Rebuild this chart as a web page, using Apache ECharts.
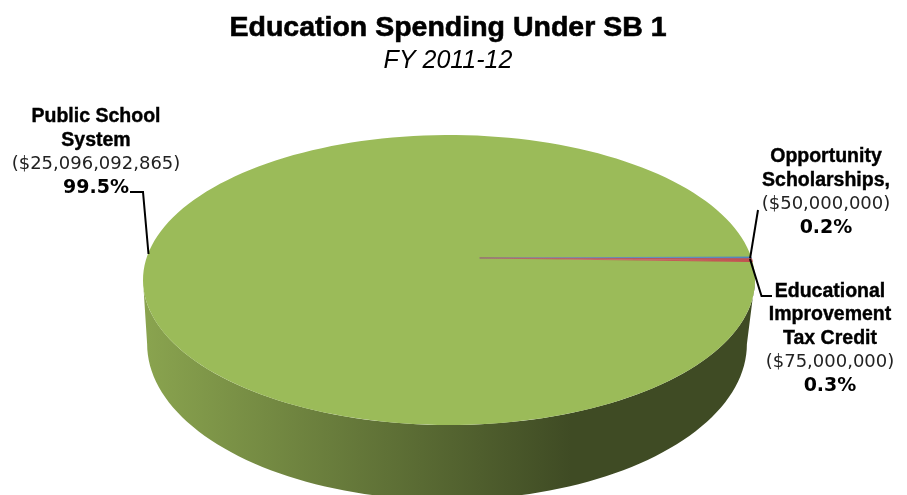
<!DOCTYPE html>
<html>
<head>
<meta charset="utf-8">
<style>html,body{margin:0;padding:0;background:#fff}#c{width:907px;height:495px}</style>
<script src="https://cdn.jsdelivr.net/npm/echarts@6/dist/echarts.min.js"></script>
</head>
<body>
<div id="c"></div>
<script>
// Spending by program, FY 2011-12
const programs = ['Public School System', 'Opportunity Scholarships', 'Educational Improvement Tax Credit'];
const dollars = [25096092865, 50000000, 75000000];
const shareLabels = ['99.5%', '0.2%', '0.3%'];
const sliceColors = ['155,187,89', '79,129,189', '192,80,77'];

// The disc lives in a unit plane; the hidden axes scale it to an ellipse on screen.
const START_DEG = -9.1;          // where the first small slice leaves the rim
const APEX = [0.1, -0.152];      // slices converge here because of the tilted view
const BASE = { cx: -0.0065, cy: 0.441, rx: 0.98, ry: 1.076 };  // lower edge of the disc wall
const total = dollars.reduce((a, b) => a + b, 0);
const order = [1, 2, 0];         // clockwise order round the disc

function sweep(index) {
  let a = START_DEG;
  for (const i of order) {
    const d = dollars[i] / total * 360;
    if (i === index) return [a, a + d];
    a += d;
  }
}
const rim = deg => [Math.cos(deg * Math.PI / 180), Math.sin(deg * Math.PI / 180)];
const money = v => '($' + v.toLocaleString('en-US') + ')';

const labelText = {
  0: ['Public School', 'System'],
  1: ['Opportunity', 'Scholarships,'],
  2: ['Educational', 'Improvement', 'Tax Credit']
};
const labelAt = { 0: [96, 105], 1: [826, 145], 2: [830, 279.5] };

function renderItem(params, api) {
  const i = params.dataIndex;
  const value = api.value(0);
  const [a0, a1] = sweep(i);
  const kids = [];

  if (i === 0) {
    // side wall: lower half of the top rim joined to the base ellipse
    const wall = [];
    for (let d = 0; d <= 180; d += 2) wall.push(api.coord(rim(d)));
    for (let d = 180; d >= 0; d -= 2) {
      const p = rim(d);
      wall.push(api.coord([BASE.cx + p[0] * BASE.rx, BASE.cy + p[1] * BASE.ry]));
    }
    kids.push({
      type: 'polygon',
      shape: { points: wall },
      style: {
        fill: new echarts.graphic.LinearGradient(0, 0, 1, 0, [
          { offset: 0, color: '#8AA44F' },
          { offset: 0.7, color: '#3F4B24' },
          { offset: 1, color: '#3F4B24' }
        ])
      }
    });
  }

  // top face of the slice
  const pts = [api.coord(APEX)];
  const step = Math.max((a1 - a0) / 180, 0.02);
  for (let d = a0; d < a1; d += step) pts.push(api.coord(rim(d)));
  pts.push(api.coord(rim(a1)));
  const small = i !== 0;
  const c = sliceColors[i];
  // the narrow slices fade towards the apex, where they are thinner than a pixel
  const paint = small
    ? new echarts.graphic.LinearGradient(0, 0, 1, 0, [
        { offset: 0, color: 'rgba(' + c + ',0.45)' },
        { offset: 1, color: 'rgba(' + c + ',1)' }
      ])
    : 'rgb(' + c + ')';
  kids.push({
    type: 'polygon',
    shape: { points: pts },
    style: small ? { fill: paint, stroke: paint, lineWidth: 1 } : { fill: paint }
  });

  // leader line from the rim towards the label
  const anchorY = api.coord(rim(sweep(1)[1]))[1];
  const lead = i === 0
    ? [[130, 192], [143, 192], [148.5, 254]]
    : i === 1
      ? [[758, 210], [750, anchorY]]
      : [[750, anchorY], [761.5, 296], [772, 296]];
  kids.push({
    type: 'polyline',
    shape: { points: lead },
    style: { stroke: '#000', lineWidth: 2, fill: null }
  });

  // label block: name, amount, share
  const lines = labelText[i].map(t => '{n|' + t + '}');
  lines.push('{m|' + money(value) + '}', '{p|' + shareLabels[i] + '}');
  kids.push({
    type: 'text',
    x: labelAt[i][0],
    y: labelAt[i][1],
    style: {
      text: lines.join('\n'),
      align: 'center',
      verticalAlign: 'top',
      rich: {
        n: { font: 'bold 19.5px "Liberation Sans"', fill: '#000', stroke: '#000', lineWidth: 0.4, lineHeight: 23.7, align: 'center' },
        m: { font: '18px "DejaVu Sans"', fill: '#222', lineHeight: 23.7, align: 'center' },
        p: { font: 'bold 19px "DejaVu Sans"', fill: '#000', lineHeight: 23.7, align: 'center' }
      }
    }
  });
  return { type: 'group', children: kids };
}

const chart = echarts.init(document.getElementById('c'), null, { renderer: 'canvas' });
chart.setOption({
  animation: false,
  backgroundColor: '#fff',
  title: {
    text: 'Education Spending Under SB 1',
    subtext: 'FY 2011-12',
    left: 443,
    top: 9,
    textAlign: 'center',
    itemGap: 5,
    textStyle: { fontFamily: 'Liberation Sans', fontWeight: 'bold', fontSize: 28.5, color: '#000', textBorderColor: '#000', textBorderWidth: 0.6 },
    subtextStyle: { fontFamily: 'Liberation Sans', fontStyle: 'italic', fontSize: 25, color: '#000' }
  },
  grid: { left: 143, top: 135, width: 612, height: 290 },
  xAxis: { type: 'value', min: -1, max: 1, show: false },
  yAxis: { type: 'value', min: -1, max: 1, inverse: true, show: false },
  series: [{
    type: 'custom',
    coordinateSystem: 'cartesian2d',
    renderItem,
    clip: false,
    silent: true,
    encode: { x: 1, y: 2 },
    data: programs.map((name, i) => ({ name, value: [dollars[i], 0, 0] }))
  }]
});
</script>
</body>
</html>
